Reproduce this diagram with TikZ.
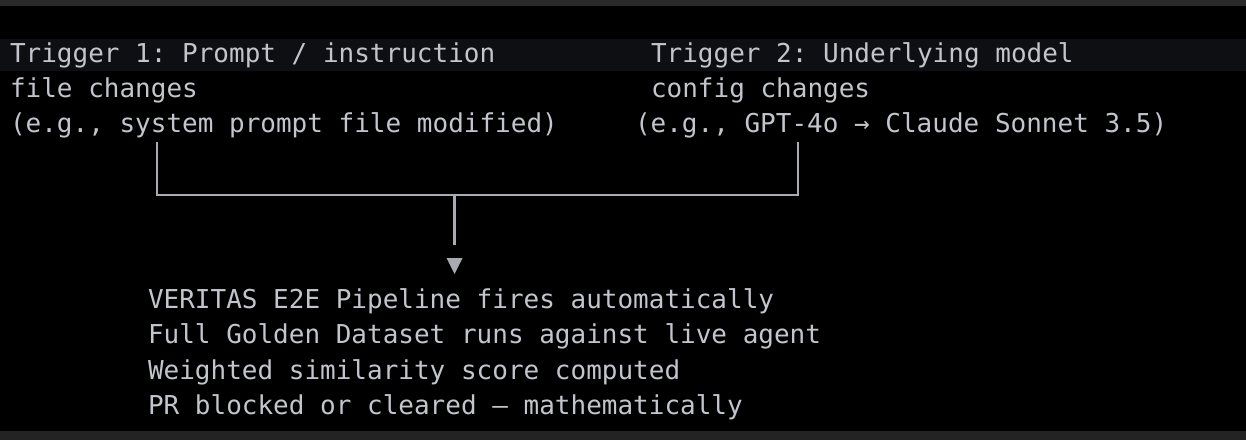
\documentclass[tikz,border=0pt]{standalone}
\usepackage{fontspec}
\setmonofont{DejaVu Sans Mono}
\definecolor{bg}{HTML}{000000}
\definecolor{barc}{HTML}{2A2A2A}
\definecolor{barb}{HTML}{232323}
\definecolor{band}{HTML}{0D0F12}
\definecolor{txt}{HTML}{C2C5CB}
\definecolor{ln}{HTML}{A8ABB1}
\tikzset{
  term/.style={anchor=base west, inner sep=0pt, outer sep=0pt, align=left, text=txt,
    font=\ttfamily\fontsize{26}{35.2}\selectfont},
  conn/.style={draw=ln, line width=2.6pt},
  tip/.style={fill=ln}
}
\begin{document}
\begin{tikzpicture}[x=1pt,y=-1pt]
\useasboundingbox (0,0) rectangle (1246,440);
\fill[bg] (0,0) rectangle (1246,440);
\fill[barc] (0,0) rectangle (1246,6);
\fill[barb] (0,430.7) rectangle (1246,440);
\fill[band] (0,39) rectangle (1246,71);
% text blocks (node base = baseline of last line)
\node[term] (t1) at (10,132.4) {Trigger 1: Prompt / instruction\\file changes\\(e.g., system prompt file modified)};
\node[term] (t2a) at (651,97.2) {Trigger 2: Underlying model\\config changes};
\node[term] (t2b) at (635,132.4) {(e.g., GPT-4o → Claude Sonnet 3.5)};
\node[term] (out) at (148,414.2) {VERITAS E2E Pipeline fires automatically\\Full Golden Dataset runs against live agent\\Weighted similarity score computed\\PR blocked or cleared — mathematically};
% connectors
\coordinate (l1) at (157,142);
\coordinate (r1) at (798,142);
\coordinate (j) at (454.5,195);
\coordinate (d) at (454.5,245);
\draw[conn] (l1) |- (j) -| (r1);
\draw[conn] (j) -- (d);
\fill[tip] (446.5,258) -- (462.5,258) -- (454.5,274) -- cycle;
\end{tikzpicture}
\end{document}
